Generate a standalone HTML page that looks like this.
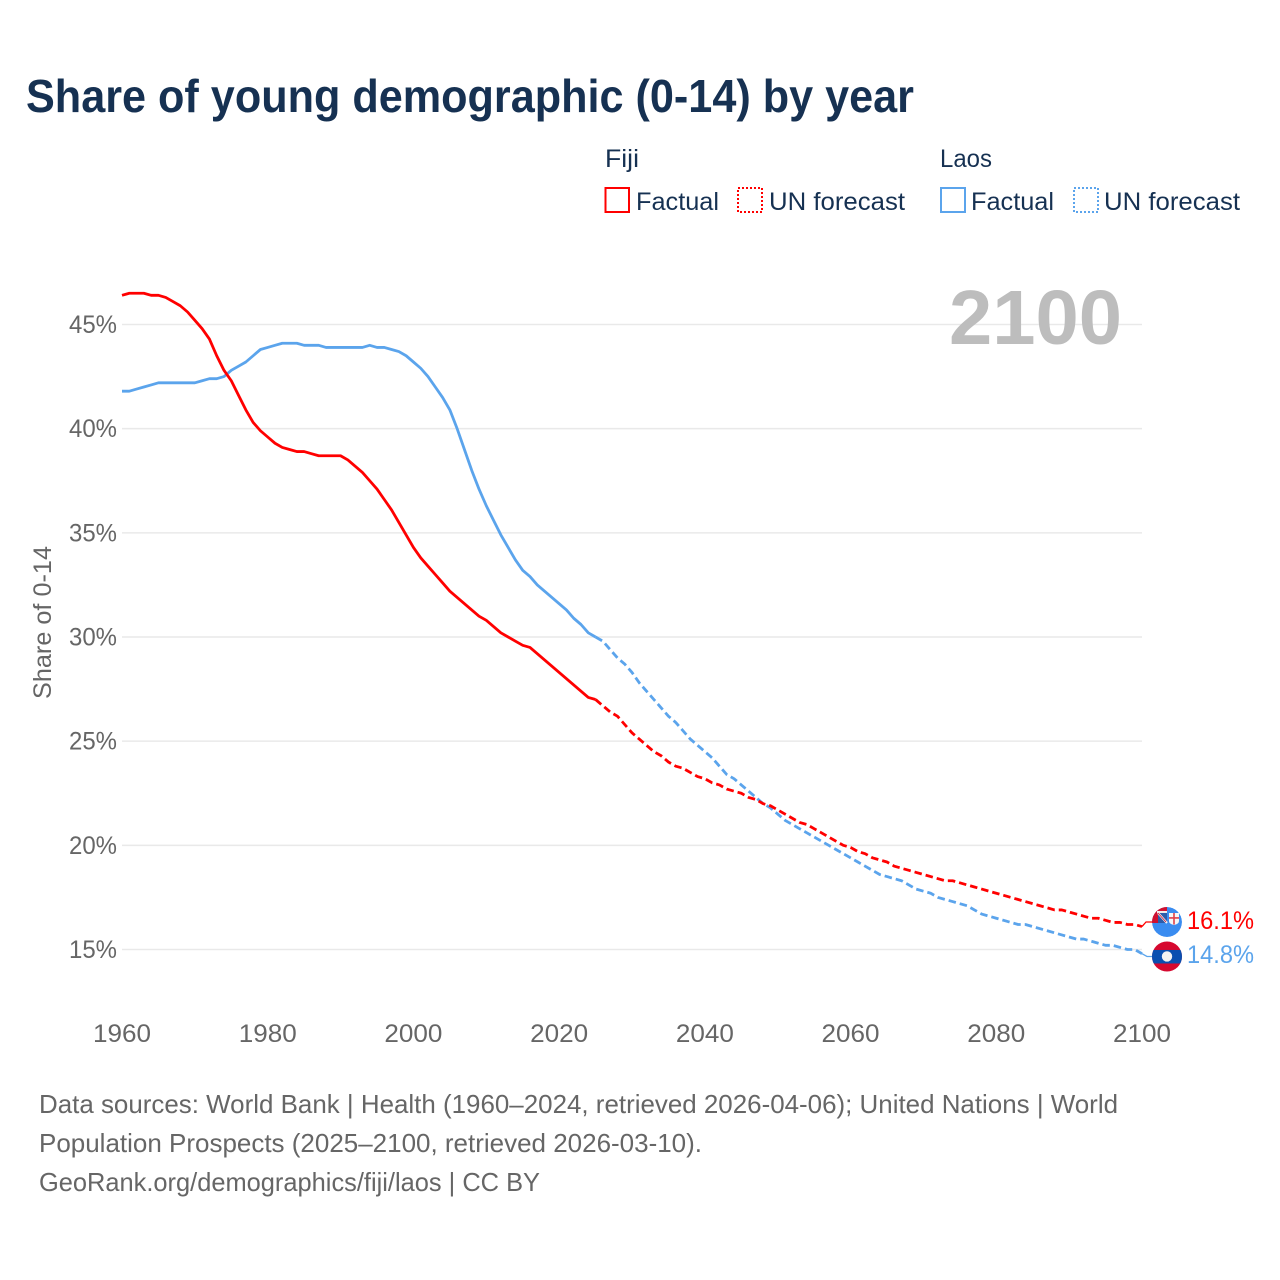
<!DOCTYPE html>
<html lang="en">
<head>
<meta charset="utf-8">
<title>Share of young demographic (0-14) by year</title>
<style>
html,body{margin:0;padding:0;background:#fff}
svg{display:block}
text{font-family:"Liberation Sans",sans-serif}
</style>
</head>
<body>
<svg id="chart" xmlns="http://www.w3.org/2000/svg" width="1280" height="1280" viewBox="0 0 1280 1280">
<defs>
<clipPath id="fiji-clip"><circle id="fiji-clip-circle" cx="1167" cy="922" r="15"/></clipPath>
<clipPath id="laos-clip"><circle id="laos-clip-circle" cx="1167" cy="956.5" r="15"/></clipPath>
</defs>
<rect width="1280" height="1280" fill="#fff"/>
<text x="26" y="112" font-size="46" font-weight="700" fill="#163152" textLength="888" lengthAdjust="spacingAndGlyphs">Share of young demographic (0-14) by year</text>

<g font-size="25" fill="#163152">
<text x="605" y="167" textLength="34" lengthAdjust="spacingAndGlyphs">Fiji</text>
<text x="940" y="167" textLength="52" lengthAdjust="spacingAndGlyphs">Laos</text>
<rect x="605.5" y="188" width="23.5" height="24" fill="none" stroke="#ff0000" stroke-width="2"/>
<text x="636" y="210" textLength="83" lengthAdjust="spacingAndGlyphs">Factual</text>
<rect x="738" y="188" width="24" height="24" fill="none" stroke="#ff0000" stroke-width="2" stroke-dasharray="2 2"/>
<text x="769" y="210" textLength="136" lengthAdjust="spacingAndGlyphs">UN forecast</text>
<rect x="941" y="188" width="24" height="24" fill="none" stroke="#5ba4ec" stroke-width="2"/>
<text x="971" y="210" textLength="83" lengthAdjust="spacingAndGlyphs">Factual</text>
<rect x="1074" y="188" width="24" height="24" fill="none" stroke="#5ba4ec" stroke-width="2" stroke-dasharray="2 2"/>
<text x="1104" y="210" textLength="136" lengthAdjust="spacingAndGlyphs">UN forecast</text>
</g>

<g id="grid"></g>
<g id="yticks"></g>
<g id="xticks"></g>
<text transform="translate(51,622.5) rotate(-90)" text-anchor="middle" font-size="25" fill="#666" textLength="153" lengthAdjust="spacingAndGlyphs">Share of 0-14</text>
<text x="949" y="344" font-size="77" font-weight="700" fill="#bdbdbd" textLength="173" lengthAdjust="spacingAndGlyphs">2100</text>
<g id="series"></g>

<g id="fiji-flag">
<g clip-path="url(#fiji-clip)">
<circle cx="1167" cy="922" r="15" fill="#3a8cf0"/>
<rect x="1152" y="907" width="15" height="16" fill="#cf1030"/>
<rect x="1157" y="911" width="10" height="2" fill="#f0f0f0"/>
<rect x="1158" y="913" width="9" height="10" fill="#2b5caa"/>
<path d="M1158 913 L1167 923" stroke="#f2f2f2" stroke-width="2.2" fill="none"/>
<path d="M1158 913 L1166 922" stroke="#cf1030" stroke-width="0.8" fill="none"/>
<path d="M1169 913 H1179 V921 Q1179 924 1174 925 Q1169 924 1169 921 Z" fill="#f6f6f6"/>
<path d="M1174 913 V924.5 M1169 918 H1179" stroke="#e0404a" stroke-width="1.6" fill="none"/>
</g>
</g>
<g id="laos-flag">
<g clip-path="url(#laos-clip)">
<rect x="1152" y="941" width="30" height="31" fill="#d6082f"/>
<rect x="1152" y="950" width="30" height="13.5" fill="#0a4fb0"/>
<circle cx="1167" cy="956.5" r="5.2" fill="#f2f2f2"/>
</g>
</g>
<g id="end-labels"></g>

<g font-size="26" fill="#666">
<text x="39" y="1113" textLength="1079" lengthAdjust="spacingAndGlyphs">Data sources: World Bank | Health (1960–2024, retrieved 2026-04-06); United Nations | World</text>
<text x="39" y="1152" textLength="663" lengthAdjust="spacingAndGlyphs">Population Prospects (2025–2100, retrieved 2026-03-10).</text>
<text x="39" y="1191" textLength="501" lengthAdjust="spacingAndGlyphs">GeoRank.org/demographics/fiji/laos | CC BY</text>
</g>
</svg>
<script>
const xTickYears = [1960, 1980, 2000, 2020, 2040, 2060, 2080, 2100];
const yTickValues = [15, 20, 25, 30, 35, 40, 45];
const firstYear = 1960;
const fijiFactual = [46.4,46.5,46.5,46.5,46.4,46.4,46.3,46.1,45.9,45.6,45.2,44.8,44.3,43.5,42.8,42.3,41.6,40.9,40.3,39.9,39.6,39.3,39.1,39.0,38.9,38.9,38.8,38.7,38.7,38.7,38.7,38.5,38.2,37.9,37.5,37.1,36.6,36.1,35.5,34.9,34.3,33.8,33.4,33.0,32.6,32.2,31.9,31.6,31.3,31.0,30.8,30.5,30.2,30.0,29.8,29.6,29.5,29.2,28.9,28.6,28.3,28.0,27.7,27.4,27.1,27.0];
const fijiForecast = [26.7,26.4,26.2,25.8,25.4,25.1,24.8,24.5,24.3,24.0,23.8,23.7,23.5,23.3,23.2,23.0,22.9,22.7,22.6,22.5,22.3,22.2,22.0,21.9,21.7,21.5,21.3,21.1,21.0,20.8,20.6,20.4,20.2,20.0,19.9,19.7,19.6,19.4,19.3,19.2,19.0,18.9,18.8,18.7,18.6,18.5,18.4,18.3,18.3,18.2,18.1,18.0,17.9,17.8,17.7,17.6,17.5,17.4,17.3,17.2,17.1,17.0,16.9,16.9,16.8,16.7,16.6,16.5,16.5,16.4,16.3,16.3,16.2,16.2,16.1];
const laosFactual = [41.8,41.8,41.9,42.0,42.1,42.2,42.2,42.2,42.2,42.2,42.2,42.3,42.4,42.4,42.5,42.8,43.0,43.2,43.5,43.8,43.9,44.0,44.1,44.1,44.1,44.0,44.0,44.0,43.9,43.9,43.9,43.9,43.9,43.9,44.0,43.9,43.9,43.8,43.7,43.5,43.2,42.9,42.5,42.0,41.5,40.9,40.0,39.0,38.0,37.1,36.3,35.6,34.9,34.3,33.7,33.2,32.9,32.5,32.2,31.9,31.6,31.3,30.9,30.6,30.2,30.0];
const laosForecast = [29.8,29.4,29.0,28.7,28.3,27.8,27.4,27.0,26.6,26.2,25.9,25.5,25.1,24.8,24.5,24.2,23.8,23.4,23.2,22.9,22.6,22.3,22.0,21.8,21.5,21.2,21.0,20.8,20.6,20.4,20.2,20.0,19.8,19.6,19.4,19.2,19.0,18.8,18.6,18.5,18.4,18.3,18.1,17.9,17.8,17.7,17.5,17.4,17.3,17.2,17.1,16.9,16.7,16.6,16.5,16.4,16.3,16.2,16.2,16.1,16.0,15.9,15.8,15.7,15.6,15.5,15.5,15.4,15.3,15.2,15.2,15.1,15.0,15.0,14.8];

const NS = 'http://www.w3.org/2000/svg';
const xOf = function (year) { return 122 + (year - 1960) * (1020 / 140); };
const yOf = function (value) { return 949.5 - (value - 15) * (625 / 30); };
const make = function (tag, parent) {
  const el = document.createElementNS(NS, tag);
  document.getElementById(parent).appendChild(el);
  return el;
};
const set = function (el, props) {
  Object.keys(props).forEach(function (k) { el.setAttribute(k, props[k]); });
};

yTickValues.forEach(function (v) {
  const line = make('line', 'grid');
  
  
  set(line, { x1: 122, x2: 1142, y1: yOf(v), y2: yOf(v), stroke: '#e9e9e9', 'stroke-width': 1.5 });
  const label = make('text', 'yticks');
  
  
  set(label, { x: 117, y: yOf(v) + 8.5, 'text-anchor': 'end', 'font-size': 25, fill: '#666', textLength: 48, lengthAdjust: 'spacingAndGlyphs' });
  label.textContent = v + '%';
});

xTickYears.forEach(function (yr) {
  const label = make('text', 'xticks');
  
  
  set(label, { x: xOf(yr), y: 1042, 'text-anchor': 'middle', 'font-size': 25, fill: '#666', textLength: 58, lengthAdjust: 'spacingAndGlyphs' });
  label.textContent = String(yr);
});

const toPath = function (values, startYear) {
  return values.map(function (v, i) {
    return (i ? 'L' : 'M') + xOf(startYear + i).toFixed(2) + ' ' + yOf(v).toFixed(2);
  }).join(' ');
};
const forecastStart = firstYear + fijiFactual.length - 1;

const laosFactualLine = make('path', 'series');


set(laosFactualLine, { d: toPath(laosFactual, firstYear), fill: 'none', stroke: '#5ba4ec', 'stroke-width': 2.8, 'stroke-linejoin': 'round' });

const laosForecastLine = make('path', 'series');


set(laosForecastLine, { d: toPath([laosFactual[laosFactual.length - 1]].concat(laosForecast), forecastStart), fill: 'none', stroke: '#5ba4ec', 'stroke-width': 2.8, 'stroke-dasharray': '7.5 4', 'stroke-linejoin': 'round' });

const fijiFactualLine = make('path', 'series');


set(fijiFactualLine, { d: toPath(fijiFactual, firstYear), fill: 'none', stroke: '#ff0000', 'stroke-width': 2.8, 'stroke-linejoin': 'round' });

const fijiForecastLine = make('path', 'series');


set(fijiForecastLine, { d: toPath([fijiFactual[fijiFactual.length - 1]].concat(fijiForecast), forecastStart), fill: 'none', stroke: '#ff0000', 'stroke-width': 2.8, 'stroke-dasharray': '7.5 4', 'stroke-linejoin': 'round' });

const fijiLast = fijiForecast[fijiForecast.length - 1];
const laosLast = laosForecast[laosForecast.length - 1];
const fijiFlagY = yOf(fijiLast) - 4.6;
const laosFlagY = yOf(laosLast) + 2.8;

const fijiStub = make('path', 'series');


set(fijiStub, { d: 'M' + xOf(2100) + ' ' + yOf(fijiLast) + ' L1146 ' + fijiFlagY + ' L1153 ' + fijiFlagY, fill: 'none', stroke: '#ff0000', 'stroke-width': 1.3 });

const laosStub = make('path', 'series');


set(laosStub, { d: 'M' + xOf(2100) + ' ' + yOf(laosLast) + ' L1147 ' + laosFlagY + ' L1153 ' + laosFlagY, fill: 'none', stroke: '#5ba4ec', 'stroke-width': 1.3 });

document.getElementById('fiji-flag').setAttribute('transform', 'translate(0,' + (fijiFlagY - 922) + ')');
document.getElementById('laos-flag').setAttribute('transform', 'translate(0,' + (laosFlagY - 956.5) + ')');

const fijiLabel = make('text', 'end-labels');


set(fijiLabel, { x: 1187, y: fijiFlagY + 7, 'font-size': 25, fill: '#ff0000', textLength: 67, lengthAdjust: 'spacingAndGlyphs' });
fijiLabel.textContent = fijiLast.toFixed(1) + '%';

const laosLabel = make('text', 'end-labels');


set(laosLabel, { x: 1187, y: laosFlagY + 6.5, 'font-size': 25, fill: '#5ba4ec', textLength: 67, lengthAdjust: 'spacingAndGlyphs' });
laosLabel.textContent = laosLast.toFixed(1) + '%';
</script>
</body>
</html>
